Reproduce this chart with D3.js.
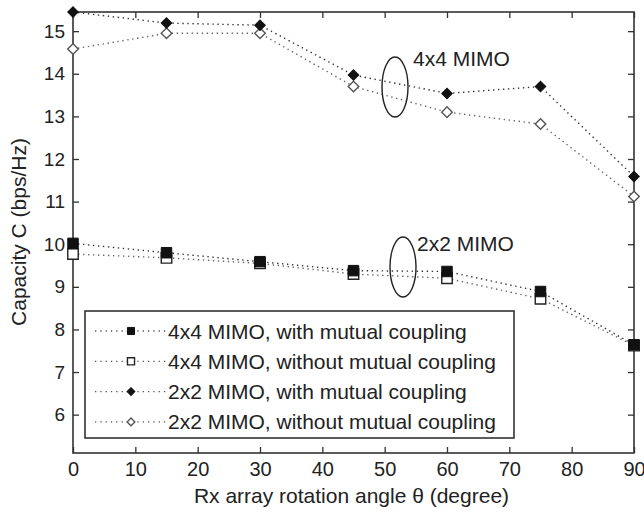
<!DOCTYPE html>
<html>
<head>
<meta charset="utf-8">
<script src="https://cdn.jsdelivr.net/npm/d3@7"></script>
<style>
  body { margin:0; background:#fff; }
  svg { font-family: "Liberation Sans", Arial, sans-serif; }
  .tick text { fill:#222; }
  .domain { display:none; }
</style>
</head>
<body>
<svg width="644" height="517"></svg>
<script>
// rotation angle (degree)
const angles = [0, 15, 30, 45, 60, 75, 90];
// capacity (bps/Hz)
const cap4x4With    = [10.02, 9.8, 9.59, 9.38, 9.36, 8.89, 7.64];
const cap4x4Without = [9.77, 9.68, 9.55, 9.3, 9.2, 8.72, 7.62];
const cap2x2With    = [15.45, 15.19, 15.14, 13.97, 13.54, 13.7, 11.59];
const cap2x2Without = [14.58, 14.95, 14.95, 13.7, 13.1, 12.82, 11.12];

const xTicks = [0, 10, 20, 30, 40, 50, 60, 70, 80, 90];
const yTicks = [6, 7, 8, 9, 10, 11, 12, 13, 14, 15];

const seriesNames = [
  '4x4 MIMO, with mutual coupling',
  '4x4 MIMO, without mutual coupling',
  '2x2 MIMO, with mutual coupling',
  '2x2 MIMO, without mutual coupling'
];

const svg = d3.select('svg');
const margin = { top:12, right:10, bottom:64, left:73 };
const width = +svg.attr('width');
const height = +svg.attr('height');
const innerWidth = width - margin.left - margin.right;
const innerHeight = height - margin.top - margin.bottom;

const xscale = d3.scaleLinear().domain([0, 90]).range([0, innerWidth]);
const yscale = d3.scaleLinear().domain([5.1, 15.45]).range([innerHeight, 0]);

const g = svg.append('g')
  .attr('transform', `translate(${margin.left},${margin.top})`);

// frame + ticks (MATLAB style, ticks inward on all sides)
g.append('g')
  .attr('transform', `translate(0,${innerHeight})`)
  .call(d3.axisBottom(xscale).tickValues(xTicks).tickSize(-6).tickPadding(9))
  .call(a => a.selectAll('text').style('font-size','20px'));
g.append('g')
  .call(d3.axisTop(xscale).tickValues(xTicks).tickSize(-6).tickFormat(''));
g.append('g')
  .call(d3.axisLeft(yscale).tickValues(yTicks).tickSize(-6).tickPadding(8))
  .call(a => a.selectAll('text').style('font-size','19px'));
g.append('g')
  .attr('transform', `translate(${innerWidth},0)`)
  .call(d3.axisRight(yscale).tickValues(yTicks).tickSize(-6).tickFormat(''));
g.selectAll('.tick line').attr('stroke', '#333').attr('stroke-width', 1.3);

g.append('rect')
  .attr('width', innerWidth).attr('height', innerHeight)
  .attr('fill', 'none').attr('stroke', '#333').attr('stroke-width', 1.6);

// axis labels
svg.append('text')
  .attr('x', margin.left + innerWidth / 2 - 2)
  .attr('y', 503)
  .attr('text-anchor', 'middle')
  .attr('fill', '#222')
  .style('font-size', '21px')
  .text('Rx array rotation angle θ (degree)');
svg.append('text')
  .attr('transform', `translate(26,${232}) rotate(-90)`)
  .attr('text-anchor', 'middle')
  .attr('fill', '#222')
  .style('font-size', '21px')
  .text('Capacity C (bps/Hz)');

// series
const series = [
  { vals: cap4x4With,    shape: 'square',  filled: true,  color: '#111' },
  { vals: cap4x4Without, shape: 'square',  filled: false, color: '#222' },
  { vals: cap2x2With,    shape: 'diamond', filled: true,  color: '#111' },
  { vals: cap2x2Without, shape: 'diamond', filled: false, color: '#555' }
];

const line = d3.line()
  .x((d, i) => xscale(angles[i]))
  .y(d => yscale(d));

const markerPath = (shape, big) => {
  if (shape === 'square') return d3.symbol(d3.symbolSquare, big ? 110 : 50)();
  return d3.symbol(d3.symbolSquare, big ? 56 : 30)();
};

const drawMarker = (sel, s, big) => {
  sel.append('path')
    .attr('d', markerPath(s.shape, big))
    .attr('transform', d => (s.shape === 'diamond' ? 'rotate(45)' : ''))
    .attr('fill', s.filled ? s.color : '#fff')
    .attr('stroke', s.color)
    .attr('stroke-width', s.filled ? 1 : 1.4);
};

// draw "without" first so filled markers sit on top
[1, 0, 3, 2].forEach(k => {
  const s = series[k];
  g.append('path')
    .datum(s.vals)
    .attr('d', line)
    .attr('fill', 'none')
    .attr('stroke', s.filled ? '#333' : '#666')
    .attr('stroke-width', 1.4)
    .attr('stroke-dasharray', '1.4,3.6');
});
[1, 0, 3, 2].forEach(k => {
  const s = series[k];
  const m = g.append('g').selectAll('g').data(s.vals)
    .enter().append('g')
      .attr('transform', (d, i) => `translate(${xscale(angles[i])},${yscale(d)})`);
  drawMarker(m, s, true);
});

// annotations
const ann = [
  { label: '4x4 MIMO', tx: 413, ty: 66, cx: 395, cy: 87, rx: 13, ry: 30 },
  { label: '2x2 MIMO', tx: 417, ty: 251, cx: 403, cy: 267, rx: 13, ry: 30 }
];
ann.forEach(a => {
  svg.append('ellipse')
    .attr('cx', a.cx).attr('cy', a.cy).attr('rx', a.rx).attr('ry', a.ry)
    .attr('fill', 'none').attr('stroke', '#222').attr('stroke-width', 1.4);
  svg.append('text')
    .attr('x', a.tx).attr('y', a.ty)
    .attr('fill', '#222')
    .style('font-size', '21px')
    .text(a.label);
});

// legend
const leg = svg.append('g').attr('transform', 'translate(85,311)');
leg.append('rect')
  .attr('width', 429).attr('height', 127)
  .attr('fill', '#fff').attr('stroke', '#333').attr('stroke-width', 1.6);
seriesNames.forEach((name, k) => {
  const s = series[k];
  const row = leg.append('g').attr('transform', `translate(0,${20 + k * 30.3})`);
  row.append('line')
    .attr('x1', 10).attr('x2', 82).attr('y1', 0).attr('y2', 0)
    .attr('stroke', '#555').attr('stroke-width', 1.3)
    .attr('stroke-dasharray', '1.3,4');
  const m = row.append('g').attr('transform', 'translate(46,0)');
  drawMarker(m, s, false);
  row.append('text')
    .attr('x', 83).attr('y', 7.5)
    .attr('fill', '#222')
    .style('font-size', '21px')
    .text(name);
});
</script>
</body>
</html>
